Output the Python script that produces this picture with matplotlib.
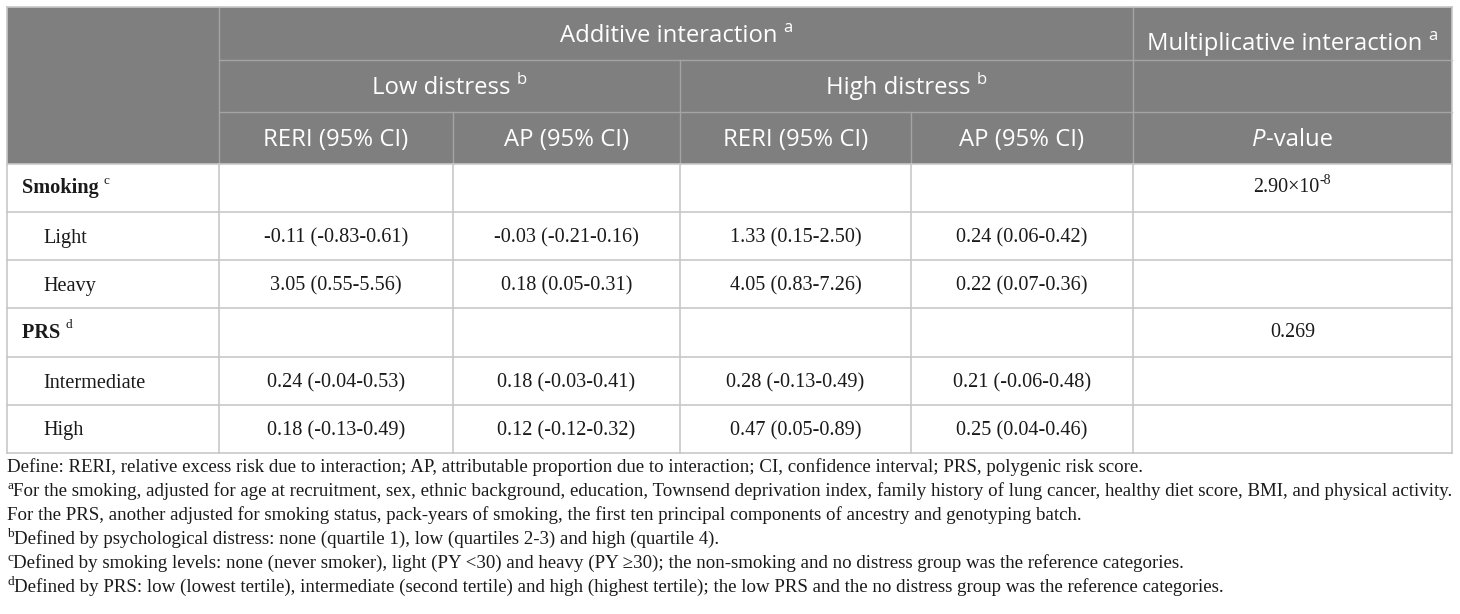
import matplotlib
matplotlib.use("Agg")
import matplotlib.pyplot as plt

# ---- data ----
row_labels = ["Smoking", "Light", "Heavy", "PRS", "Intermediate", "High"]
row_sups = ["c", "", "", "d", "", ""]
low_reri = ["", "-0.11 (-0.83-0.61)", "3.05 (0.55-5.56)", "", "0.24 (-0.04-0.53)", "0.18 (-0.13-0.49)"]
low_ap = ["", "-0.03 (-0.21-0.16)", "0.18 (0.05-0.31)", "", "0.18 (-0.03-0.41)", "0.12 (-0.12-0.32)"]
high_reri = ["", "1.33 (0.15-2.50)", "4.05 (0.83-7.26)", "", "0.28 (-0.13-0.49)", "0.47 (0.05-0.89)"]
high_ap = ["", "0.24 (0.06-0.42)", "0.22 (0.07-0.36)", "", "0.21 (-0.06-0.48)", "0.25 (0.04-0.46)"]
p_values = [("2.90\u00d710", "-8"), ("", ""), ("", ""), ("0.269", ""), ("", ""), ("", "")]

footnotes = [
    ("", "Define: RERI, relative excess risk due to interaction; AP, attributable proportion due to interaction; CI, confidence interval; PRS, polygenic risk score."),
    ("a", "For the smoking, adjusted for age at recruitment, sex, ethnic background, education, Townsend deprivation index, family history of lung cancer, healthy diet score, BMI, and physical activity."),
    ("", "For the PRS, another adjusted for smoking status, pack-years of smoking, the first ten principal components of ancestry and genotyping batch."),
    ("b", "Defined by psychological distress: none (quartile 1), low (quartiles 2-3) and high (quartile 4)."),
    ("c", "Defined by smoking levels: none (never smoker), light (PY <30) and heavy (PY \u226530); the non-smoking and no distress group was the reference categories."),
    ("d", "Defined by PRS: low (lowest tertile), intermediate (second tertile) and high (highest tertile); the low PRS and the no distress group was the reference categories."),
]

# ---- layout (pixels) ----
W, H = 1460, 614
col_x = [7, 219, 453, 680, 911, 1133, 1452]
head_y = [7, 60, 112, 164]
body_y = [164, 212, 260, 308, 357, 405, 453]
HEAD_BG = "#7f7f7f"
HEAD_LINE = "#a4a4a4"
BODY_LINE = "#c8c8c8"
SANS = "Open Sans"
SERIF = "Liberation Serif"

fig = plt.figure(figsize=(W / 100, H / 100), dpi=100)
ax = fig.add_axes([0, 0, 1, 1])
ax.set_xlim(0, W)
ax.set_ylim(H, 0)
ax.axis("off")
fig.canvas.draw()
renderer = fig.canvas.get_renderer()


def rich(x, y, segs, ha="center"):
    # segs: list of (text, fontsize, dy, extra kwargs)
    objs = []
    for s, fs, dy, kw in segs:
        t = ax.text(0, y + dy, s, fontsize=fs, ha="left", va="center", **kw)
        objs.append(t)
    widths = [t.get_window_extent(renderer).width for t in objs]
    total = sum(widths)
    x0 = x - total / 2 if ha == "center" else x
    for t, w in zip(objs, widths):
        t.set_x(x0)
        x0 += w


# header background
ax.fill_between([col_x[0], col_x[-1]], head_y[0], head_y[-1], color=HEAD_BG, lw=0)

# header lines
ax.plot([col_x[1], col_x[-1]], [head_y[1]] * 2, color=HEAD_LINE, lw=1)
ax.plot([col_x[1], col_x[-1]], [head_y[2]] * 2, color=HEAD_LINE, lw=1)
ax.plot([col_x[1]] * 2, [head_y[0], head_y[3]], color=HEAD_LINE, lw=1)
ax.plot([col_x[5]] * 2, [head_y[0], head_y[3]], color=HEAD_LINE, lw=1)
ax.plot([col_x[3]] * 2, [head_y[1], head_y[3]], color=HEAD_LINE, lw=1)
ax.plot([col_x[2]] * 2, [head_y[2], head_y[3]], color=HEAD_LINE, lw=1)
ax.plot([col_x[4]] * 2, [head_y[2], head_y[3]], color=HEAD_LINE, lw=1)

# body grid
for y in body_y:
    ax.plot([col_x[0], col_x[-1]], [y, y], color=BODY_LINE, lw=1.2)
for x in col_x:
    ax.plot([x, x], [body_y[0], body_y[-1]], color=BODY_LINE, lw=1.2)
ax.plot([col_x[0]] * 2, [head_y[0], head_y[-1]], color=BODY_LINE, lw=1.2)
ax.plot([col_x[-1]] * 2, [head_y[0], head_y[-1]], color=BODY_LINE, lw=1.2)
ax.plot([col_x[0], col_x[-1]], [head_y[0]] * 2, color=BODY_LINE, lw=1.2)

# header text
hfs, hsup = 17.2, 12
hk = dict(color="white", family=SANS)
rich((col_x[1] + col_x[5]) / 2, 36, [("Additive interaction ", hfs, 0, hk), ("a", hsup, -8, hk)])
rich((col_x[5] + col_x[6]) / 2, 44, [("Multiplicative interaction ", hfs, 0, hk), ("a", hsup, -8, hk)])
rich((col_x[1] + col_x[3]) / 2, 88, [("Low distress ", hfs, 0, hk), ("b", hsup, -8, hk)])
rich((col_x[3] + col_x[5]) / 2, 88, [("High distress ", hfs, 0, hk), ("b", hsup, -8, hk)])
sub_heads = ["RERI (95% CI)", "AP (95% CI)", "RERI (95% CI)", "AP (95% CI)"]
for i, s in enumerate(sub_heads):
    rich((col_x[i + 1] + col_x[i + 2]) / 2, 140, [(s, hfs, 0, hk)])
rich((col_x[5] + col_x[6]) / 2, 140, [("P", hfs, 0, dict(hk, style="italic")), ("-value", hfs, 0, hk)])

# body text
bfs = 14.6
bk = dict(color="#1a1a1a", family=SERIF)
for r in range(len(row_labels)):
    yc = (body_y[r] + body_y[r + 1]) / 2 + 2
    if row_sups[r]:
        rich(22, yc - 2, [(row_labels[r] + " ", bfs, 0, dict(bk, weight="bold")),
                          (row_sups[r], 9.5, -7, bk)], ha="left")
    else:
        rich(43, yc, [(row_labels[r], bfs, 0, bk)], ha="left")
    for c, col in enumerate([low_reri, low_ap, high_reri, high_ap]):
        if col[r]:
            rich((col_x[c + 1] + col_x[c + 2]) / 2, yc, [(col[r], bfs, 0, bk)])
    base, sup = p_values[r]
    if base:
        segs = [(base, 14.4, 0, bk)]
        if sup:
            segs.append((sup, 10, -7, bk))
        rich((col_x[5] + col_x[6]) / 2, yc - 2, segs)

# footnotes
ffs = 13.6
for i, (sup, txt) in enumerate(footnotes):
    y = 467 + i * 24
    segs = []
    if sup:
        segs.append((sup, 9.5, -5, bk))
    segs.append((txt, ffs, 0, bk))
    rich(7, y, segs, ha="left")

fig.savefig("out.png", dpi=100, facecolor="white")
